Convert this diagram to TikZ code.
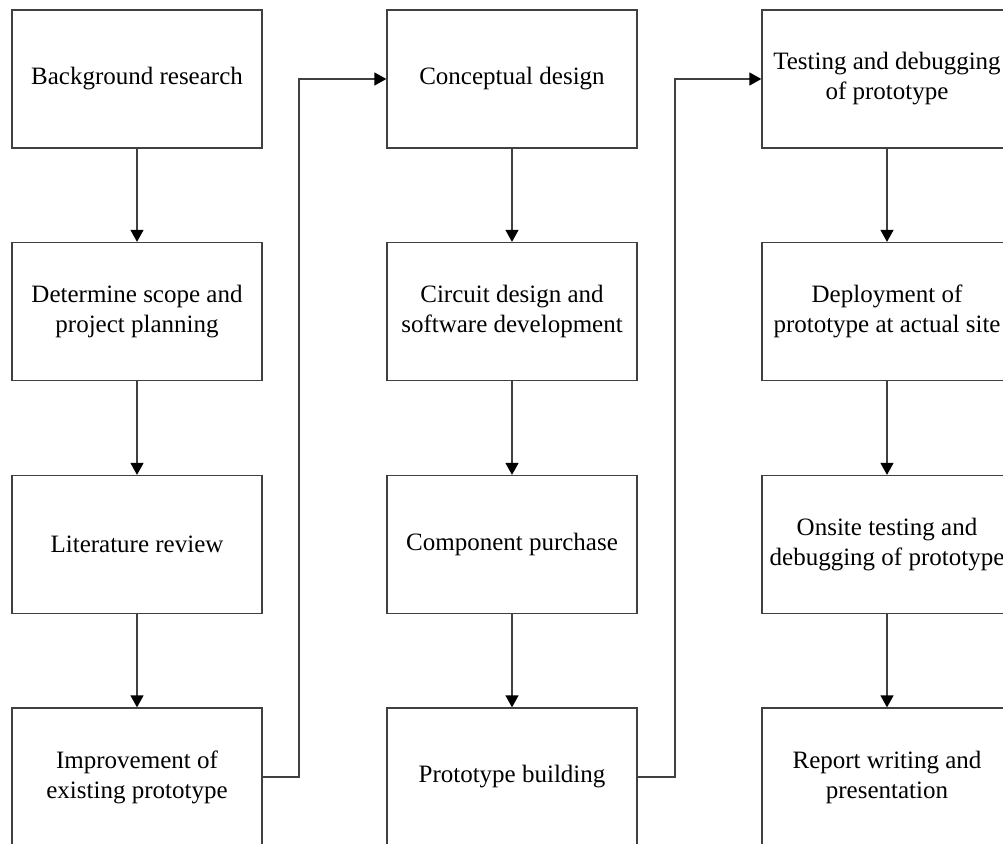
\documentclass[tikz,border=0pt]{standalone}
\usepackage{fontspec}
\setmainfont{Liberation Serif}
\usetikzlibrary{arrows.meta}
\tikzset{stage/.style={draw=black!75,line width=1.3pt,minimum width=250pt,minimum height=138pt,inner xsep=0pt,align=center,font=\fontsize{25}{30}\selectfont},
  flow/.style={draw=black!75,line width=1.3pt,-{Triangle[length=12pt,width=13pt,color=black]}}}
\begin{document}
\begin{tikzpicture}[x=1pt,y=-1pt]
\clip (0,0) rectangle (1003,843);
\node[stage] (bg) at (137,79) {Background research};
\node[stage] (scope) at (137,311.5) {Determine scope and\\project planning};
\node[stage] (lit) at (137,544.5) {Literature review};
\node[stage] (impr) at (137,777) {Improvement of\\existing prototype};
\node[stage] (concept) at (512,79) {Conceptual design};
\node[stage] (circuit) at (512,311.5) {Circuit design and\\software development};
\node[stage] (purchase) at (512,544.5) {Component purchase};
\node[stage] (build) at (512,777) {Prototype building};
\node[stage] (test) at (887,79) {Testing and debugging\\of prototype};
\node[stage] (deploy) at (887,311.5) {Deployment of\\prototype at actual site};
\node[stage] (onsite) at (887,544.5) {Onsite testing and\\debugging of prototype};
\node[stage] (report) at (887,777) {Report writing and\\presentation};
\foreach \a/\b in {bg/scope,scope/lit,lit/impr,concept/circuit,circuit/purchase,purchase/build,test/deploy,deploy/onsite,onsite/report} { \draw[flow] (\a) -- (\b); }
\coordinate (turnA) at (299,79); \coordinate (turnB) at (675,79);
\draw[flow] (impr.east) -| (turnA) -- (concept.west);
\draw[flow] (build.east) -| (turnB) -- (test.west);
\end{tikzpicture}
\end{document}
